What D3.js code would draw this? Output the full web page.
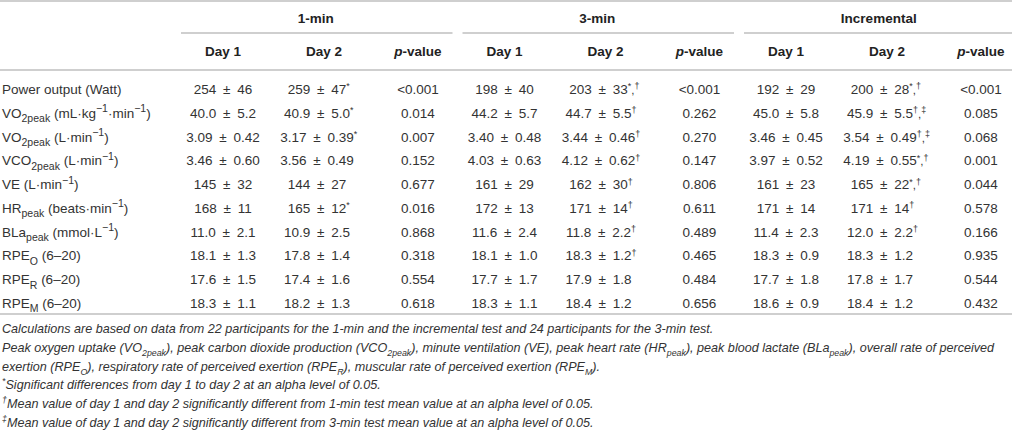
<!DOCTYPE html>
<html>
<head>
<meta charset="utf-8">
<script src="https://cdn.jsdelivr.net/npm/d3@7"></script>
<style>
  body { margin: 0; background: #fff; }
  svg { display: block; font-family: "Liberation Sans", Arial, sans-serif; }
</style>
</head>
<body>
<svg id="tbl" width="1012" height="434"></svg>
<script>
const tests = ["1-min", "3-min", "Incremental"];
const subCols = ["Day 1", "Day 2", "p-value"];

const rowLabels = [
  "Power output (Watt)",
  "VO_{2peak} (mL·kg^{−1}·min^{−1})",
  "VO_{2peak} (L·min^{−1})",
  "VCO_{2peak} (L·min^{−1})",
  "VE (L·min^{−1})",
  "HR_{peak} (beats·min^{−1})",
  "BLa_{peak} (mmol·L^{−1})",
  "RPE_{O} (6–20)",
  "RPE_{R} (6–20)",
  "RPE_{M} (6–20)"
];

const oneMinDay1 = ["254 ± 46", "40.0 ± 5.2", "3.09 ± 0.42", "3.46 ± 0.60", "145 ± 32", "168 ± 11", "11.0 ± 2.1", "18.1 ± 1.3", "17.6 ± 1.5", "18.3 ± 1.1"];
const oneMinDay2 = ["259 ± 47", "40.9 ± 5.0", "3.17 ± 0.39", "3.56 ± 0.49", "144 ± 27", "165 ± 12", "10.9 ± 2.5", "17.8 ± 1.4", "17.4 ± 1.6", "18.2 ± 1.3"];
const oneMinMarks = ["*", "*", "*", "", "", "*", "", "", "", ""];
const oneMinP = ["<0.001", "0.014", "0.007", "0.152", "0.677", "0.016", "0.868", "0.318", "0.554", "0.618"];

const threeMinDay1 = ["198 ± 40", "44.2 ± 5.7", "3.40 ± 0.48", "4.03 ± 0.63", "161 ± 29", "172 ± 13", "11.6 ± 2.4", "18.1 ± 1.0", "17.7 ± 1.7", "18.3 ± 1.1"];
const threeMinDay2 = ["203 ± 33", "44.7 ± 5.5", "3.44 ± 0.46", "4.12 ± 0.62", "162 ± 30", "171 ± 14", "11.8 ± 2.2", "18.3 ± 1.2", "17.9 ± 1.8", "18.4 ± 1.2"];
const threeMinMarks = ["*,†", "†", "†", "†", "†", "†", "†", "†", "", ""];
const threeMinP = ["<0.001", "0.262", "0.270", "0.147", "0.806", "0.611", "0.489", "0.465", "0.484", "0.656"];

const incDay1 = ["192 ± 29", "45.0 ± 5.8", "3.46 ± 0.45", "3.97 ± 0.52", "161 ± 23", "171 ± 14", "11.4 ± 2.3", "18.3 ± 0.9", "17.7 ± 1.8", "18.6 ± 0.9"];
const incDay2 = ["200 ± 28", "45.9 ± 5.5", "3.54 ± 0.49", "4.19 ± 0.55", "165 ± 22", "171 ± 14", "12.0 ± 2.2", "18.3 ± 1.2", "17.8 ± 1.7", "18.4 ± 1.2"];
const incMarks = ["*,†", "†,‡", "†,‡", "*,†", "*,†", "†", "†", "", "", ""];
const incP = ["<0.001", "0.085", "0.068", "0.001", "0.044", "0.578", "0.166", "0.935", "0.544", "0.432"];

const footNotes = [
  "Calculations are based on data from 22 participants for the 1-min and the incremental test and 24 participants for the 3-min test.",
  "Peak oxygen uptake (VO_{2peak}), peak carbon dioxide production (VCO_{2peak}), minute ventilation (VE), peak heart rate (HR_{peak}), peak blood lactate (BLa_{peak}), overall rate of perceived",
  "exertion (RPE_{O}), respiratory rate of perceived exertion (RPE_{R}), muscular rate of perceived exertion (RPE_{M}).",
  "^{*}Significant differences from day 1 to day 2 at an alpha level of 0.05.",
  "^{†}Mean value of day 1 and day 2 significantly different from 1-min test mean value at an alpha level of 0.05.",
  "^{‡}Mean value of day 1 and day 2 significantly different from 3-min test mean value at an alpha level of 0.05."
];

// build column table from the arrays
const columns = {
  "1-min": [oneMinDay1, oneMinDay2, oneMinMarks, oneMinP],
  "3-min": [threeMinDay1, threeMinDay2, threeMinMarks, threeMinP],
  "Incremental": [incDay1, incDay2, incMarks, incP]
};

const svg = d3.select("#tbl");
const textCol = "#333";
const ruleCol = "#cfcfcf";
const bodySize = 13.5;
const footSize = 12.6;

const groupX = d3.scaleBand().domain(tests).range([181, 181 + 281.5 * 3]);
const subX = d3.scaleOrdinal().domain(subCols).range([42, 143, 237]);
const rowY = d3.scalePoint().domain(d3.range(rowLabels.length)).range([89, 303]);
const footY = d3.scalePoint().domain(d3.range(footNotes.length)).range([329, 423]);

// mean ± sd with the wider gaps of the original
const pm = s => s.replace(" ± ", "\u2002±\u2002");

// text with _{sub} and ^{sup} pieces
function rich(sel, str, size, small = 0.78) {
  const parts = str.split(/(_\{[^}]*\}|\^\{[^}]*\})/).filter(s => s.length);
  let shift = 0;
  parts.forEach(p => {
    let kind = "n", t = p;
    if (p.startsWith("_{")) { kind = "sub"; t = p.slice(2, -1); }
    else if (p.startsWith("^{")) { kind = "sup"; t = p.slice(2, -1); }
    const target = kind === "sub" ? size * 0.32 : kind === "sup" ? -size * 0.4 : 0;
    sel.append("tspan")
      .attr("dy", target - shift)
      .style("font-size", kind === "n" ? size + "px" : (size * small) + "px")
      .text(t);
    shift = target;
  });
}

function marksToRich(m) {
  if (!m) return "";
  return m.split(",").map(s => "^{" + s + "}").join(",");
}

// rules
function rule(x1, x2, y) {
  svg.append("line")
    .attr("x1", x1).attr("x2", x2).attr("y1", y).attr("y2", y)
    .attr("stroke", ruleCol).attr("stroke-width", 2);
}
rule(0, 1012, 1);
rule(0, 1012, 70);
rule(0, 1012, 314);
tests.forEach(t => {
  rule(groupX(t), groupX(t) + groupX.bandwidth() - 10, 33);
});

// group headers
svg.selectAll("text.group")
  .data(tests)
  .join("text")
  .attr("class", "group")
  .attr("x", d => groupX(d) + groupX.bandwidth() / 2 - 6)
  .attr("y", 23)
  .attr("text-anchor", "middle")
  .attr("font-weight", "bold")
  .attr("font-size", 13.5)
  .attr("fill", "#222")
  .text(d => d);

// sub headers
tests.forEach(t => {
  subCols.forEach(c => {
    const txt = svg.append("text")
      .attr("x", groupX(t) + subX(c))
      .attr("y", 56)
      .attr("text-anchor", "middle")
      .attr("font-weight", "bold")
      .attr("font-size", 13.5)
      .attr("fill", "#222");
    if (c === "p-value") {
      txt.append("tspan").attr("font-style", "italic").text("p");
      txt.append("tspan").text("-value");
    } else {
      txt.text(c);
    }
  });
});

// row labels
rowLabels.forEach((lab, i) => {
  const txt = svg.append("text")
    .attr("x", 2)
    .attr("y", rowY(i) + 5)
    .attr("fill", textCol)
    .attr("font-size", bodySize);
  rich(txt, lab, bodySize);
});

// body cells
tests.forEach(t => {
  const [d1, d2, marks, pv] = columns[t];
  const g0 = groupX(t);
  rowLabels.forEach((_, i) => {
    const y = rowY(i) + 5;
    svg.append("text")
      .attr("x", g0 + subX("Day 1"))
      .attr("y", y)
      .attr("text-anchor", "middle")
      .attr("fill", textCol)
      .attr("font-size", bodySize)
      .text(pm(d1[i]));

    const c2 = svg.append("text")
      .attr("y", y)
      .attr("fill", textCol)
      .attr("font-size", bodySize);
    const main = c2.append("tspan").text(pm(d2[i]));
    const w = main.node().getComputedTextLength();
    c2.attr("x", g0 + subX("Day 2") - 7 - w / 2);
    if (marks[i]) rich(c2, marksToRich(marks[i]), bodySize * 0.85);

    svg.append("text")
      .attr("x", g0 + subX("p-value"))
      .attr("y", y)
      .attr("text-anchor", "middle")
      .attr("fill", textCol)
      .attr("font-size", bodySize)
      .text(pv[i]);
  });
});

// foot notes
footNotes.forEach((f, i) => {
  const txt = svg.append("text")
    .attr("x", 2)
    .attr("y", footY(i) + 4)
    .attr("fill", textCol)
    .attr("font-style", "italic")
    .attr("font-size", footSize);
  rich(txt, f, footSize, 0.7);
});
</script>
</body>
</html>
